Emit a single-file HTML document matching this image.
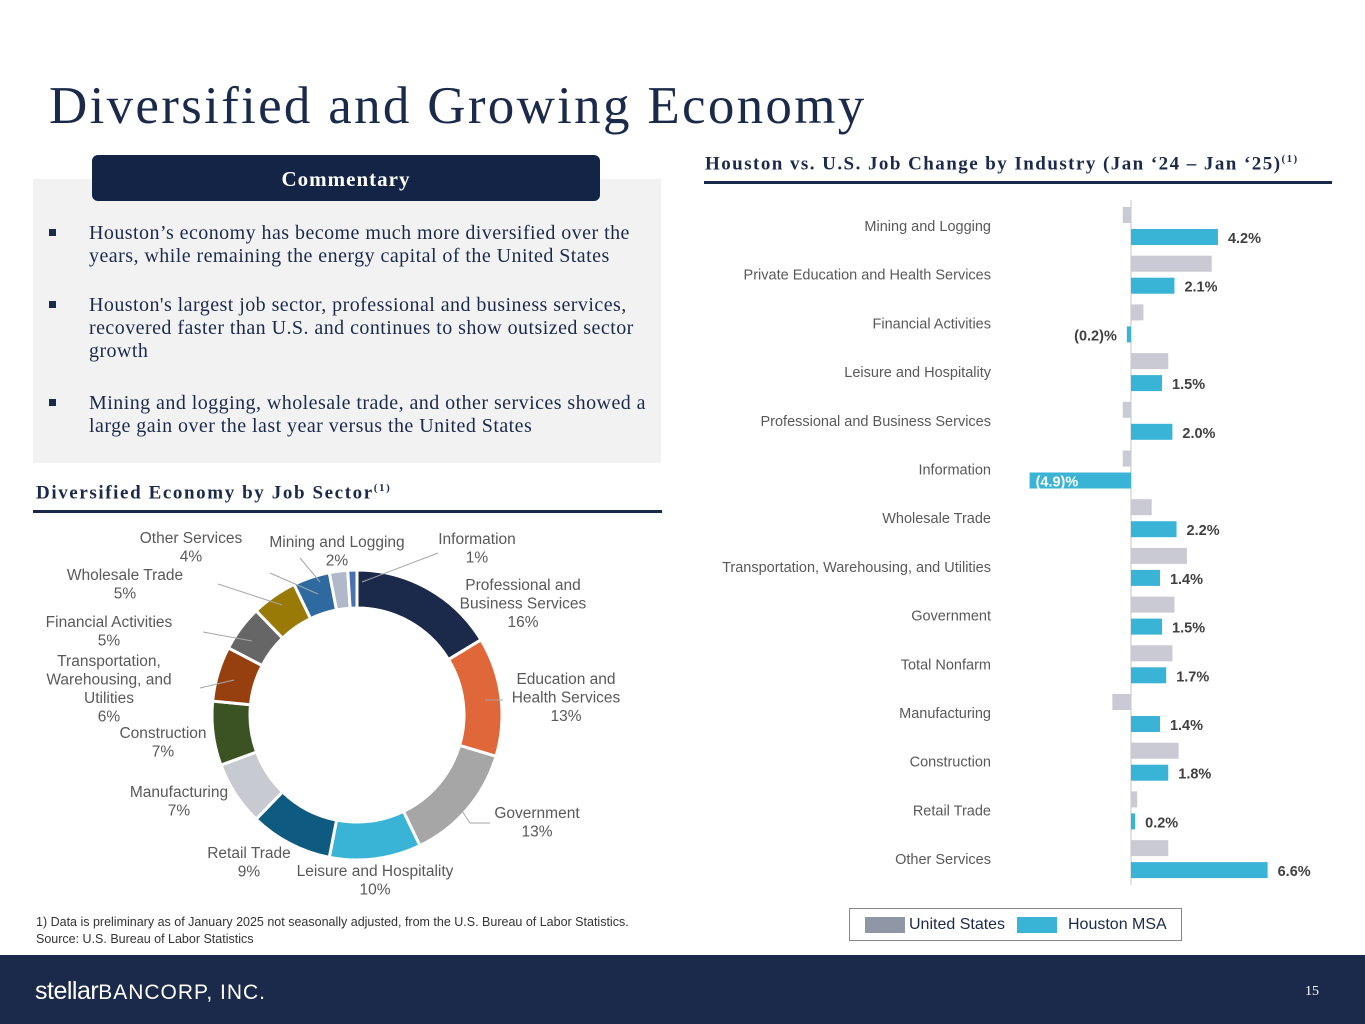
<!DOCTYPE html>
<html><head><meta charset="utf-8">
<style>
body{margin:0;width:1365px;height:1024px;position:relative;background:#fff;font-family:"Liberation Sans",sans-serif;overflow:hidden}
.serif{font-family:"Liberation Serif",serif}
.abs{position:absolute}
.title{left:49px;top:76px;font-size:53px;color:#1b2a4a;white-space:nowrap;letter-spacing:2.3px}
.panel{left:33px;top:179px;width:628px;height:284px;background:#f2f2f2}
.chip{left:92px;top:155px;width:508px;height:46px;background:#132447;border-radius:6px;color:#fff;font-weight:bold;font-size:21px;text-align:center;line-height:48px;letter-spacing:1px}
.bul{font-size:20px;color:#1b2a4a;line-height:23px;width:560px;letter-spacing:0.45px}
.bul:before{content:"";position:absolute;left:-40px;top:7px;width:7px;height:7px;background:#1b2a4a}
.sec{font-weight:bold;font-size:19px;color:#1b2a4a;white-space:nowrap;letter-spacing:1.6px}
.rule{height:3px;background:#1b2a4a}
.footer{left:0;top:955px;width:1365px;height:69px;background:#1b2a4a}
</style></head><body>
<div class="abs title serif">Diversified and Growing Economy</div>
<div class="abs panel"></div>
<div class="abs chip serif">Commentary</div>
<div class="abs bul serif" style="left:89px;top:222px">Houston’s economy has become much more diversified over the years, while remaining the energy capital of the United States</div>
<div class="abs bul serif" style="left:89px;top:294px">Houston's largest job sector, professional and business services, recovered faster than U.S. and continues to show outsized sector growth</div>
<div class="abs bul serif" style="left:89px;top:392px">Mining and logging, wholesale trade, and other services showed a large gain over the last year versus the United States</div>

<div class="abs sec serif" style="left:36px;top:482px">Diversified Economy by Job Sector<sup style="font-size:11px">(1)</sup></div>
<div class="abs rule" style="left:33px;top:510px;width:629px"></div>

<div class="abs sec serif" style="left:705px;top:153px;letter-spacing:1.45px">Houston vs. U.S. Job Change by Industry (Jan ‘24 – Jan ‘25)<sup style="font-size:11px">(1)</sup></div>
<div class="abs rule" style="left:704px;top:181px;width:628px"></div>

<svg class="abs" style="left:0;top:0" width="1365" height="955" id="charts"></svg>

<div class="abs" style="left:36px;top:914px;font-size:12.5px;color:#333;line-height:17px">1) Data is preliminary as of January 2025 not seasonally adjusted, from the U.S. Bureau of Labor Statistics.<br>Source: U.S. Bureau of Labor Statistics</div>

<div class="abs" style="left:849px;top:908px;width:333px;height:33px;border:1px solid #888;box-sizing:border-box">
 <div class="abs" style="left:15px;top:8px;width:40px;height:16px;background:#8f96a6"></div>
 <div class="abs" style="left:59px;top:7px;font-size:16px;color:#1b2a4a">United States</div>
 <div class="abs" style="left:167px;top:8px;width:40px;height:16px;background:#3ab4d6"></div>
 <div class="abs" style="left:218px;top:7px;font-size:16px;color:#1b2a4a">Houston MSA</div>
</div>

<div class="abs footer">
 <div class="abs" style="left:35px;top:22px;color:#fff;font-size:21px;white-space:nowrap"><span style="font-size:25px;letter-spacing:-0.5px">stellar</span><span style="letter-spacing:1px">BANCORP, INC.</span></div>
 <div class="abs serif" style="left:1305px;top:29px;color:#fff;font-size:14px">15</div>
</div>

<script>
// Donut data
const sectors=["Professional and Business Services","Education and Health Services","Government","Leisure and Hospitality","Retail Trade","Manufacturing","Construction","Transportation, Warehousing, and Utilities","Financial Activities","Wholesale Trade","Other Services","Mining and Logging","Information"];
const shares=[16,13,13,10,9,7,7,6,5,5,4,2,1];
const sectorColors=["#1b2a4a","#e0673a","#a6a6a6","#3ab4d6","#0e5a80","#c8cad2","#3b5323","#963f0f","#666666","#9a7a06","#2e6aa0","#b0b8ca","#4a72b0"];
// Bar data
const industries=["Mining and Logging","Private Education and Health Services","Financial Activities","Leisure and Hospitality","Professional and Business Services","Information","Wholesale Trade","Transportation, Warehousing, and Utilities","Government","Total Nonfarm","Manufacturing","Construction","Retail Trade","Other Services"];
const usValues=[-0.4,3.9,0.6,1.8,-0.4,-0.4,1.0,2.7,2.1,2.0,-0.9,2.3,0.3,1.8];
const houstonValues=[4.2,2.1,-0.2,1.5,2.0,-4.9,2.2,1.4,1.5,1.7,1.4,1.8,0.2,6.6];
const houstonLabels=["4.2%","2.1%","(0.2)%","1.5%","2.0%","(4.9)%","2.2%","1.4%","1.5%","1.7%","1.4%","1.8%","0.2%","6.6%"];

const NS="http://www.w3.org/2000/svg";
const svg=document.getElementById('charts');
function mk(t,a){const e=document.createElementNS(NS,t);for(const k in a)e.setAttribute(k,a[k]);svg.appendChild(e);return e;}

// donut
const cx=357,cy=715,R=145,r=107;
const total=shares.reduce((a,b)=>a+b,0);
let ang=0;
function pt(rad,a){return [cx+rad*Math.sin(a),cy-rad*Math.cos(a)];}
shares.forEach((v,i)=>{
  const a0=ang,a1=ang+v/total*2*Math.PI;ang=a1;
  const [x0,y0]=pt(R,a0),[x1,y1]=pt(R,a1),[x2,y2]=pt(r,a1),[x3,y3]=pt(r,a0);
  const lg=(a1-a0)>Math.PI?1:0;
  const p=mk('path',{d:`M${x0},${y0}A${R},${R} 0 ${lg} 1 ${x1},${y1}L${x2},${y2}A${r},${r} 0 ${lg} 0 ${x3},${y3}Z`,fill:sectorColors[i],stroke:'#fff','stroke-width':3});
  
  
});

// bar chart
const zeroX=1131,pxPer=20.7,row0=226,rowH=48.7;
const xs=v=>zeroX+v*pxPer;
mk('line',{x1:zeroX,y1:200,x2:zeroX,y2:885,stroke:'#d9d9d9','stroke-width':1.5});
industries.forEach((name,i)=>{
  const yc=row0+i*rowH;
  const t=mk('text',{x:991,y:yc+5,'text-anchor':'end','font-size':14.5,fill:'#595959'});
  t.textContent=name;
  
  
  const u=usValues[i];
  const b1=mk('rect',{x:Math.min(xs(0),xs(u)),y:yc-19,width:Math.abs(xs(u)-xs(0)),height:16,fill:'#c9cad3'});
  
  
  const h=houstonValues[i];
  const b2=mk('rect',{x:Math.min(xs(0),xs(h)),y:yc+3,width:Math.max(2,Math.abs(xs(h)-xs(0))),height:16,fill:'#3ab4d6'});
  
  
  let lx,anchor='start',col='#404040';
  if(h>=0){lx=xs(h)+10;}
  else if(h<-2){lx=xs(h)+6;col='#fff';}
  else {lx=xs(h)-10;anchor='end';}
  const l=mk('text',{x:lx,y:yc+17,'text-anchor':anchor,'font-size':14.5,'font-weight':'bold',fill:col});
  l.textContent=houstonLabels[i];
  
  
});

// donut labels
const dl=[
 [477,538,["Information","1%"],[438,553,362,582]],
 [337,541,["Mining and Logging","2%"],null],
 [191,537,["Other Services","4%"],[270,573,318,594]],
 [125,574,["Wholesale Trade","5%"],[218,584,282,605]],
 [109,621,["Financial Activities","5%"],[203,632,252,641]],
 [109,660,["Transportation,","Warehousing, and","Utilities","6%"],[200,688,234,680]],
 [163,732,["Construction","7%"],null],
 [179,791,["Manufacturing","7%"],null],
 [249,852,["Retail Trade","9%"],null],
 [375,870,["Leisure and Hospitality","10%"],null],
 [537,812,["Government","13%"],[490,823,470,823,460,808]],
 [566,678,["Education and","Health Services","13%"],[503,700,485,700]],
 [523,584,["Professional and","Business Services","16%"],null]
];
dl.forEach(([x,y,lines,ld])=>{
  if(ld){const pl=mk('polyline',{points:ld.join(','),fill:'none',stroke:'#a6a6a6','stroke-width':1});
    }
  const t=mk('text',{x:x,y:y+6,'text-anchor':'middle','font-size':15.5,fill:'#595959'});
  
  
  lines.forEach((s,k)=>{const ts=document.createElementNS(NS,'tspan');ts.setAttribute('x',x);ts.setAttribute('dy',k?18.5:0);ts.textContent=s;t.appendChild(ts);});
});
const ml=mk('polyline',{points:'300,558 320,582',fill:'none',stroke:'#a6a6a6','stroke-width':1});


</script>
</body></html>
